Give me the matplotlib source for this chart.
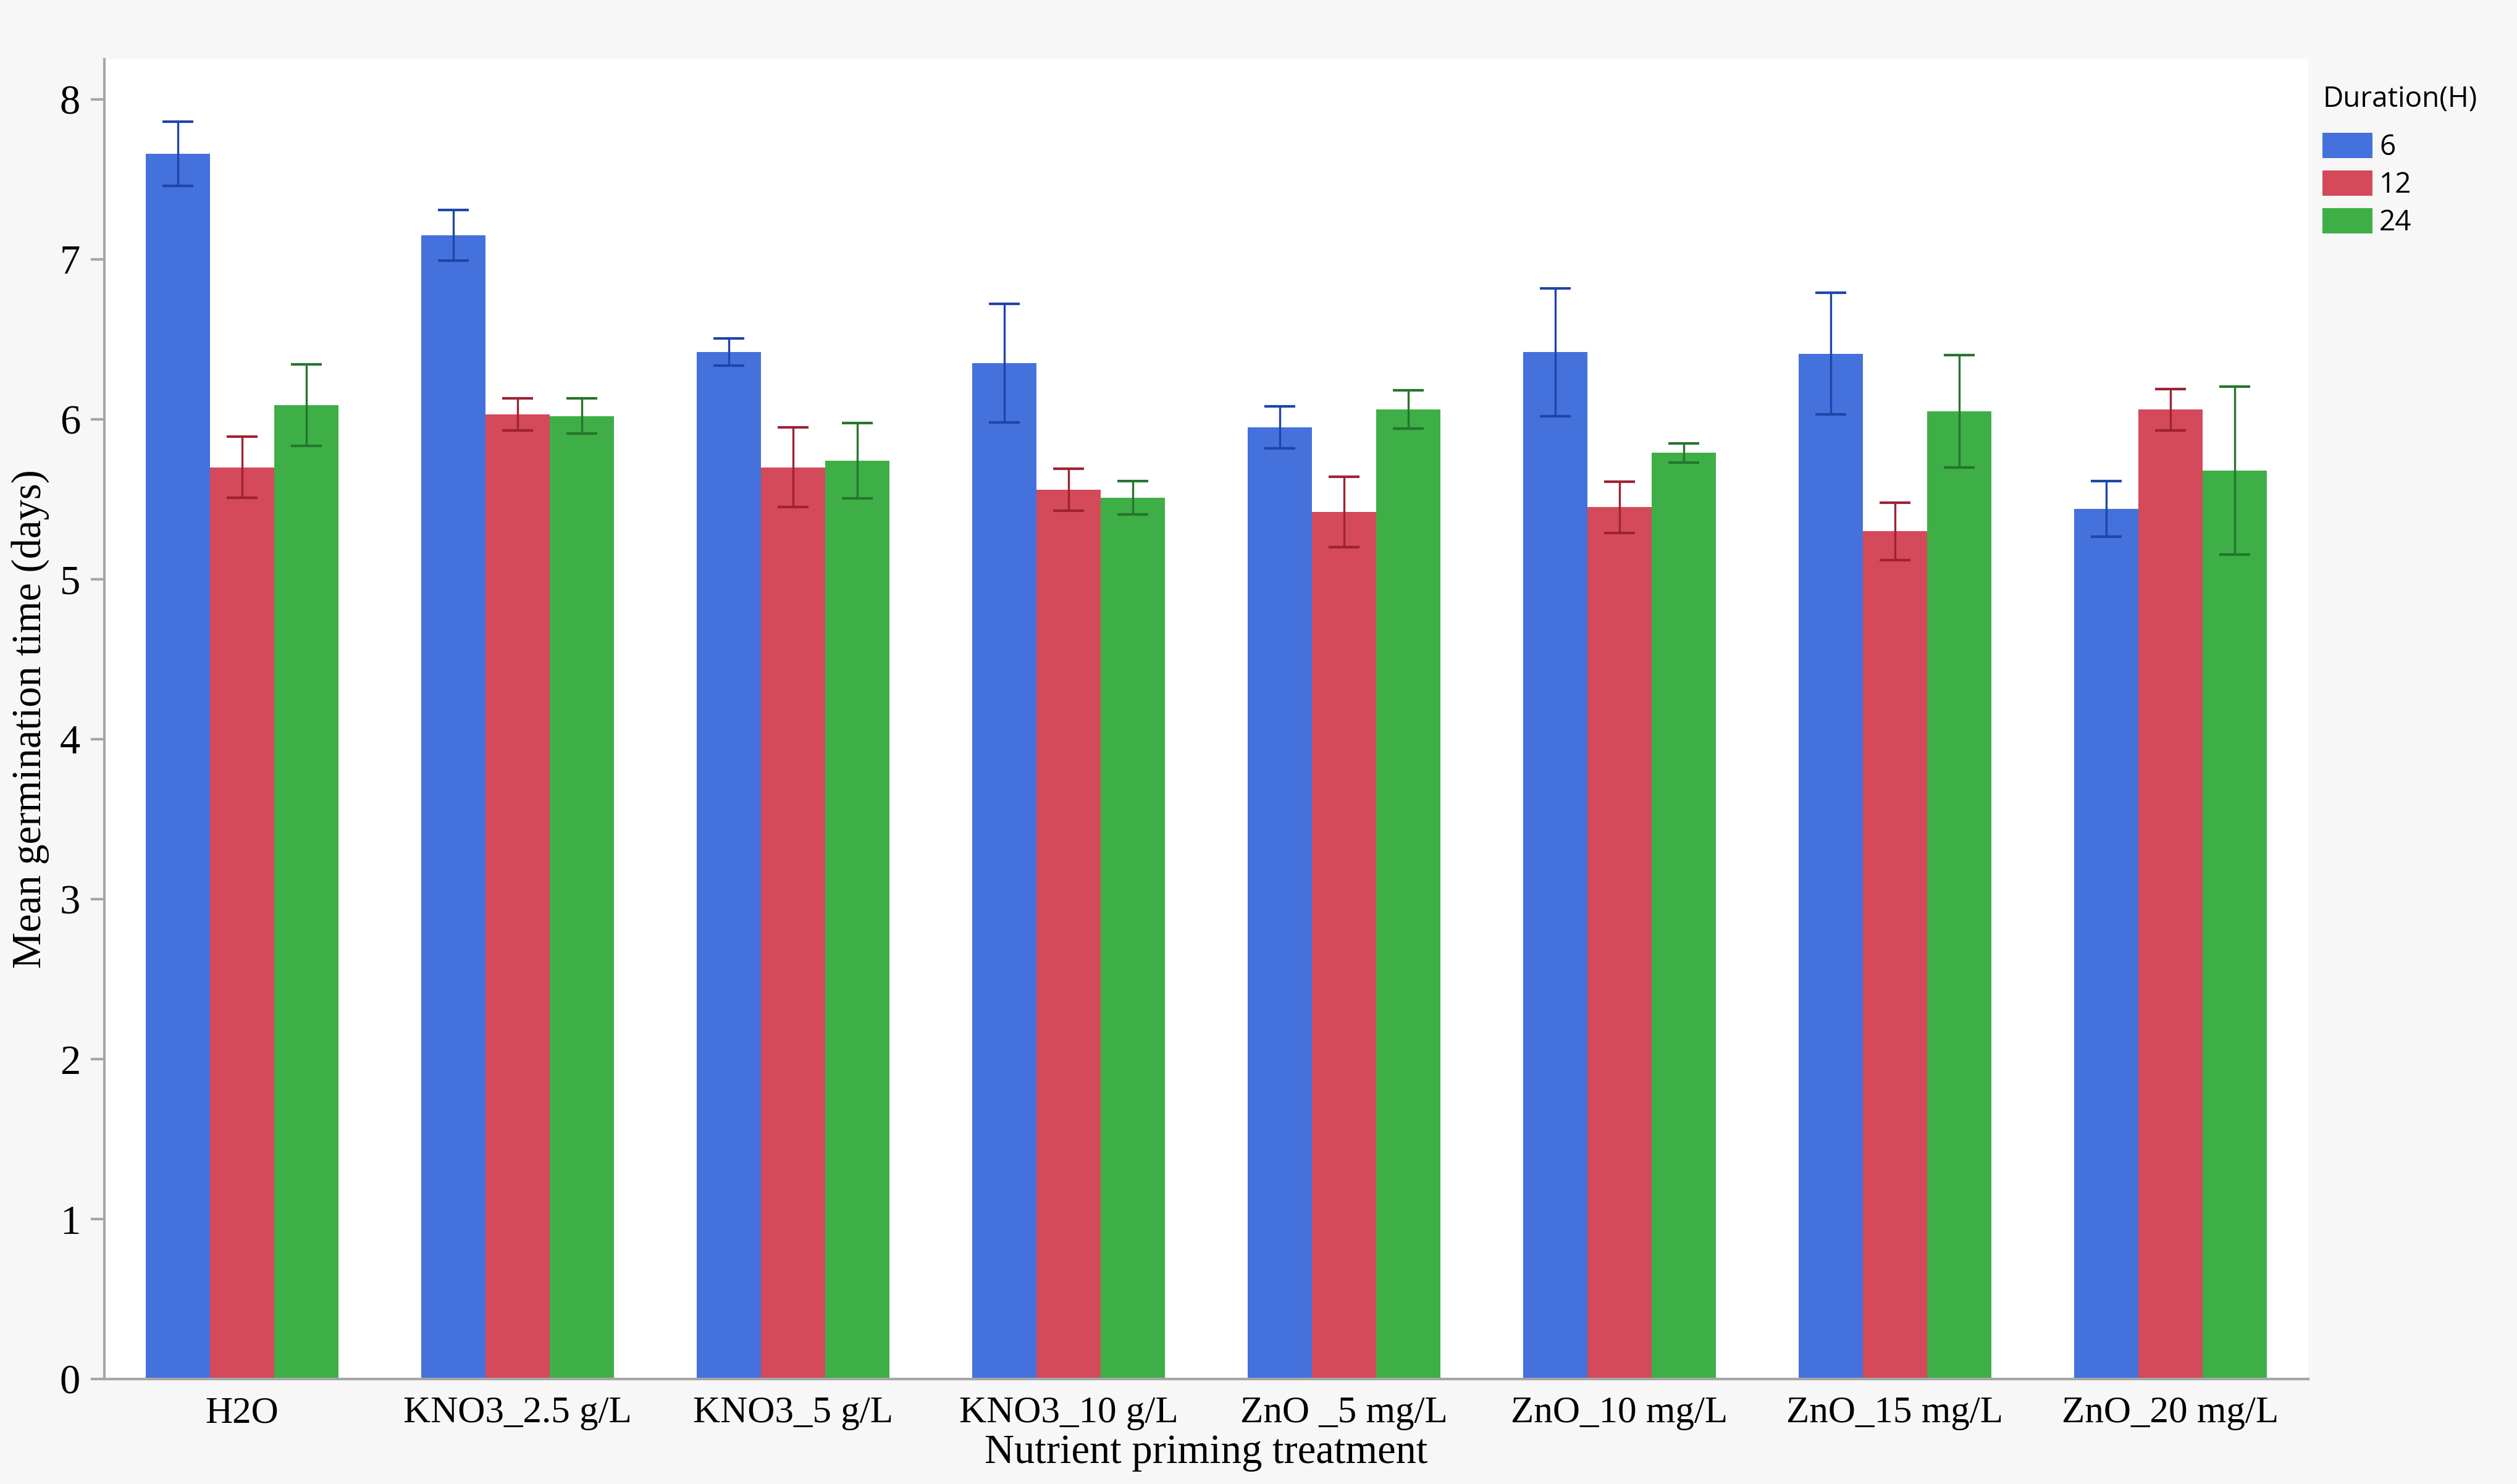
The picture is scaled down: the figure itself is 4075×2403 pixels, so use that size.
import numpy as np
import matplotlib
matplotlib.use("Agg")
import matplotlib.pyplot as plt

treatments = ["H2O", "KNO3_2.5 g/L", "KNO3_5 g/L", "KNO3_10 g/L",
              "ZnO _5 mg/L", "ZnO_10 mg/L", "ZnO_15 mg/L", "ZnO_20 mg/L"]
durations = ["6", "12", "24"]

# mean germination time per duration
mean_6 = [7.66, 7.15, 6.42, 6.35, 5.95, 6.42, 6.41, 5.44]
mean_12 = [5.70, 6.03, 5.70, 5.56, 5.42, 5.45, 5.30, 6.06]
mean_24 = [6.09, 6.02, 5.74, 5.51, 6.06, 5.79, 6.05, 5.68]

# half-length of error bars
err_6 = [0.20, 0.16, 0.085, 0.37, 0.13, 0.40, 0.38, 0.175]
err_12 = [0.19, 0.10, 0.25, 0.13, 0.22, 0.16, 0.18, 0.13]
err_24 = [0.255, 0.11, 0.235, 0.105, 0.12, 0.06, 0.35, 0.525]

means = [mean_6, mean_12, mean_24]
errs = [err_6, err_12, err_24]
bar_colors = ["#4571dc", "#d44a5a", "#3eaf46"]
err_colors = ["#1f45a8", "#9e2233", "#25762e"]

fig = plt.figure(figsize=(20.375, 12.015), dpi=200, facecolor="#f7f7f7")
ax = fig.add_axes([0.0415, 0.0707, 0.8755, 0.8893])
ax.set_facecolor("white")

x = np.arange(len(treatments))
w = 0.233
handles = []
for i in range(3):
    pos = x + (i - 1) * w
    b = ax.bar(pos, means[i], width=w, color=bar_colors[i], label=durations[i])
    ax.errorbar(pos, means[i], yerr=errs[i], fmt="none", ecolor=err_colors[i],
                elinewidth=1.2, capsize=9, capthick=1.5)
    handles.append(b)

ax.set_xlim(-0.5, 7.5)
ax.set_ylim(0, 8.25)
ax.set_yticks(range(9))
ax.set_xticks(x)
ax.set_xticklabels(treatments, fontfamily="Liberation Serif", fontsize=22)
for t in ax.get_yticklabels():
    t.set_fontfamily("Liberation Serif")
    t.set_fontsize(24)
ax.tick_params(axis="x", length=0, pad=10)
ax.tick_params(axis="y", length=8, width=1.5, color="#a6a6a6", pad=6)

for s in ["top", "right"]:
    ax.spines[s].set_visible(False)
for s in ["left", "bottom"]:
    ax.spines[s].set_color("#a6a6a6")
    ax.spines[s].set_linewidth(1.5)

ax.set_xlabel("Nutrient priming treatment", fontfamily="Liberation Serif",
              fontsize=24, labelpad=2)
ax.set_ylabel("Mean germination time (days)", fontfamily="Liberation Serif",
              fontsize=24, labelpad=6)

# legend title drawn separately to get the wider gap above the entries
fig.text(0.9228, 0.933, "Duration(H)", fontfamily="Open Sans", fontsize=16.5,
         ha="left", va="center")
leg = fig.legend(handles=handles, labels=durations,
                 loc="upper left", bbox_to_anchor=(0.9228, 0.9105),
                 frameon=False, prop={"family": "Open Sans", "size": 16.5},
                 borderpad=0, borderaxespad=0,
                 handlelength=1.75, handleheight=1.0, handletextpad=0.25,
                 labelspacing=0.3)

fig.savefig("out.png", dpi=200, facecolor=fig.get_facecolor())
